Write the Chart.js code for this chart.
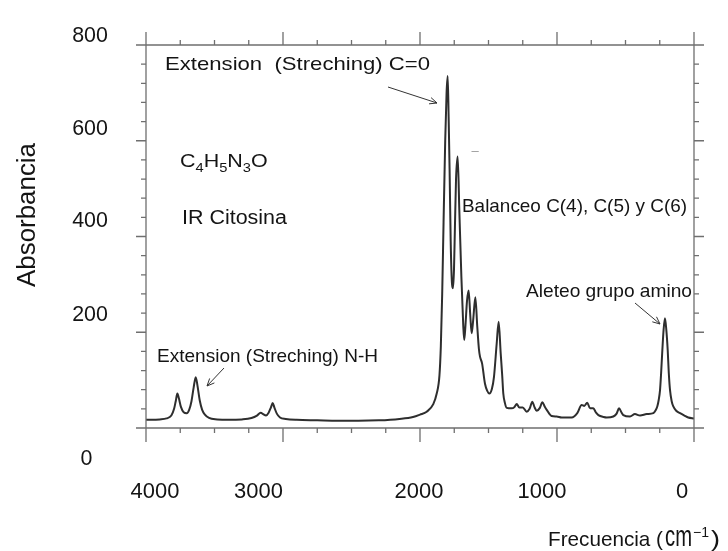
<!DOCTYPE html>
<html><head><meta charset="utf-8">
<script src="https://cdn.jsdelivr.net/npm/chart.js@4.4.0/dist/chart.umd.min.js"></script>
<style>html,body{margin:0;padding:0;background:#fff;}canvas{display:block;}</style>
</head><body>
<canvas id="c" width="728" height="551"></canvas>
<script>
// ---- data ----
const wavenumbers = [4000,3900,3850,3815,3795,3783,3771,3760,3745,3725,3703,3685,3668,3652,3637,3624,3608,3590,3570,3540,3480,3400,3300,3230,3190,3163,3145,3124,3105,3088,3075,3062,3045,3022,2980,2900,2750,2600,2450,2300,2150,2051,2000,1951,1903,1878,1858,1848,1838,1828,1816,1806,1798,1791,1784,1776,1766,1759,1752,1745,1737,1725,1713,1698,1684,1677,1668,1657,1645,1634,1623,1612,1596,1582,1570,1562,1547,1526,1510,1494,1475,1460,1440,1426,1411,1400,1392,1380,1367,1331,1310,1294,1275,1250,1221,1200,1180,1165,1148,1125,1107,1090,1075,1039,1002,966,893,852,820,801,779,759,735,715,698,660,637,589,565,547,530,516,467,431,394,345,297,280,268,258,248,240,231,222,212,202,192,184,175,163,151,130,102,70,42,0];
const absorbance = [17,18,20,26,40,56,72,62,44,33,31,38,56,85,106,88,58,38,28,21,18,17,18,21,26,32,29,26,32,43,52,42,30,22,19,17,16,15,15,16,19,23,28,34,50,72,110,170,280,430,600,700,735,650,540,390,300,292,330,420,520,567,455,316,212,184,215,265,287,240,198,225,273,212,165,149,135,93,78,72,82,107,177,222,156,110,72,52,42,41,44,50,43,43,34,40,55,44,36,42,54,45,38,25,24,22,22,31,48,46,53,41,41,32,27,23,22,24,30,41,33,27,24,29,26,29,31,37,45,58,79,115,163,205,229,205,163,115,79,56,45,36,31,26,22,20];
const xTickValues = [4000,3000,2000,1000,0];
const xTickLabels = ['4000','3000','2000','1000','0'];
const yTickValues = [800,600,400,200,0];
const yTickLabels = ['800','600','400','200','0'];
const xTitle = 'Frecuencia (';
const xUnit = 'cm';
const xUnitSup = '\u22121';
const yTitle = 'Absorbancia';
const annotations = {
  co: 'Extension  (Streching) C=0',
  nh: 'Extension (Streching) N-H',
  bal: 'Balanceo C(4), C(5) y C(6)',
  ale: 'Aleteo grupo amino',
  name: 'IR Citosina'
};
const formula = [['C',0],['4',1],['H',0],['5',1],['N',0],['3',1],['O',0]];

// ---- styling helpers ----
const FONT = '"Liberation Sans", Arial, Helvetica, sans-serif';
function txt(ctx, s, x, y, size, o) {
  o = o || {};
  ctx.save();
  ctx.font = size + 'px ' + FONT;
  ctx.fillStyle = o.color || '#141414';
  ctx.textBaseline = 'alphabetic';
  const w = ctx.measureText(s).width;
  const sx = o.width ? o.width / w : 1;
  ctx.translate(x, y);
  if (o.rotate) ctx.rotate(o.rotate);
  ctx.scale(sx, 1);
  const a = o.align || 'left';
  const dx = a === 'center' ? -w / 2 : (a === 'right' ? -w : 0);
  ctx.fillText(s, dx, 0);
  ctx.restore();
  return w * sx;
}
function arrow(ctx, x1, y1, x2, y2) {
  const ang = Math.atan2(y2 - y1, x2 - x1), h = 8, s = 0.42;
  ctx.save();
  ctx.strokeStyle = '#333'; ctx.lineWidth = 1;
  ctx.beginPath();
  ctx.moveTo(x1, y1); ctx.lineTo(x2, y2);
  ctx.moveTo(x2 - h * Math.cos(ang - s), y2 - h * Math.sin(ang - s));
  ctx.lineTo(x2, y2);
  ctx.lineTo(x2 - h * Math.cos(ang + s), y2 - h * Math.sin(ang + s));
  ctx.stroke();
  ctx.restore();
}

const xLabelOffsets = [9, -24.5, -1, -15, -12];
const yLabelPos = [[-56, -11], [-56, -13.75], [-56, -17.5], [-56, -19.25], [-59.5, 29]];

const framePlugin = {
  id: 'frame',
  afterDraw(chart) {
    const ctx = chart.ctx;
    const xs = chart.scales.x, ys = chart.scales.y;
    const L = xs.getPixelForValue(4000), R = xs.getPixelForValue(0);
    const T = ys.getPixelForValue(800), B = ys.getPixelForValue(0);
    ctx.save();
    ctx.strokeStyle = '#6f6f6f'; ctx.lineWidth = 1.3;
    ctx.beginPath();
    ctx.moveTo(L - 10, T); ctx.lineTo(R + 10, T);
    ctx.moveTo(L - 10, B); ctx.lineTo(R + 10, B);
    ctx.moveTo(L, T - 13); ctx.lineTo(L, B + 14);
    ctx.moveTo(R, T - 13); ctx.lineTo(R, B + 14);
    for (let v = 0; v <= 4000; v += 250) {
      const p = xs.getPixelForValue(v), major = v % 1000 === 0;
      ctx.moveTo(p, B); ctx.lineTo(p, B + (major ? 14 : 5));
      ctx.moveTo(p, T); ctx.lineTo(p, T - (major ? 13 : 5));
    }
    for (let v = 0; v <= 800; v += 40) {
      const p = ys.getPixelForValue(v), major = v % 200 === 0;
      ctx.moveTo(L, p); ctx.lineTo(L - (major ? 10 : 5), p);
      ctx.moveTo(R, p); ctx.lineTo(R + (major ? 10 : 5), p);
    }
    ctx.stroke();
    ctx.restore();

    // tick labels
    xTickValues.forEach((v, i) => {
      const p = xs.getPixelForValue(v) + xLabelOffsets[i];
      txt(ctx, xTickLabels[i], p, 498, 22, { align: 'center', width: xTickLabels[i].length * 12.2 });
    });
    yTickValues.forEach((v, i) => {
      const p = ys.getPixelForValue(v);
      txt(ctx, yTickLabels[i], L + yLabelPos[i][0], p + yLabelPos[i][1] + 8.3, 22, { align: 'center', width: yTickLabels[i].length * 11.9 });
    });

    // axis titles
    txt(ctx, yTitle, 35, 287, 26, { rotate: -Math.PI / 2, width: 144 });
    let x = 548;
    x += txt(ctx, xTitle, x, 546, 21, { width: 115 });
    x += txt(ctx, xUnit, x + 2, 546, 29, { width: 27 }) + 2;
    x += txt(ctx, xUnitSup, x + 1, 537, 14, { width: 16 }) + 1;
    txt(ctx, ')', x + 2, 546, 22, { width: 9 });

    // annotations
    txt(ctx, annotations.co, 165, 70, 19, { width: 265 });
    txt(ctx, annotations.bal, 462, 212, 19, { width: 225 });
    txt(ctx, annotations.ale, 526, 297, 19, { width: 166 });
    txt(ctx, annotations.nh, 157, 362, 19, { width: 221 });
    txt(ctx, annotations.name, 182, 224, 20, { width: 105 });
    txt(ctx, '\u2013', 475, 155, 13, { align: 'center', color: '#999' });

    // formula with subscripts
    ctx.save();
    let fx = 0;
    ctx.font = '19px ' + FONT; 
    const parts = formula.map(([s, sub]) => {
      ctx.font = (sub ? 13 : 19) + 'px ' + FONT;
      return [s, sub, ctx.measureText(s).width];
    });
    const tot = parts.reduce((a, p) => a + p[2], 0);
    const sc = 87.7 / tot;
    ctx.translate(180, 167); ctx.scale(sc, 1);
    ctx.fillStyle = '#141414';
    parts.forEach(([s, sub, w]) => {
      ctx.font = (sub ? 13 : 19) + 'px ' + FONT;
      ctx.fillText(s, fx, sub ? 5 : 0);
      fx += w;
    });
    ctx.restore();

    arrow(ctx, 388, 87, 437, 103);
    arrow(ctx, 224, 368, 207, 386);
    arrow(ctx, 635, 303, 660, 324);
  }
};

new Chart(document.getElementById('c').getContext('2d'), {
  type: 'line',
  data: {
    datasets: [{
      data: wavenumbers.map((w, i) => ({ x: w, y: absorbance[i] })),
      borderColor: '#2e2e2e', borderWidth: 2, pointRadius: 0,
      cubicInterpolationMode: 'monotone', fill: false
    }]
  },
  options: {
    responsive: false, animation: false, devicePixelRatio: 1,
    layout: { padding: { left: 146, right: 34, top: 45, bottom: 123 } },
    plugins: { legend: { display: false }, tooltip: { enabled: false } },
    scales: {
      x: { type: 'linear', min: 0, max: 4000, reverse: true, display: false },
      y: { type: 'linear', min: 0, max: 800, display: false }
    }
  },
  plugins: [framePlugin]
});
</script>
</body></html>
